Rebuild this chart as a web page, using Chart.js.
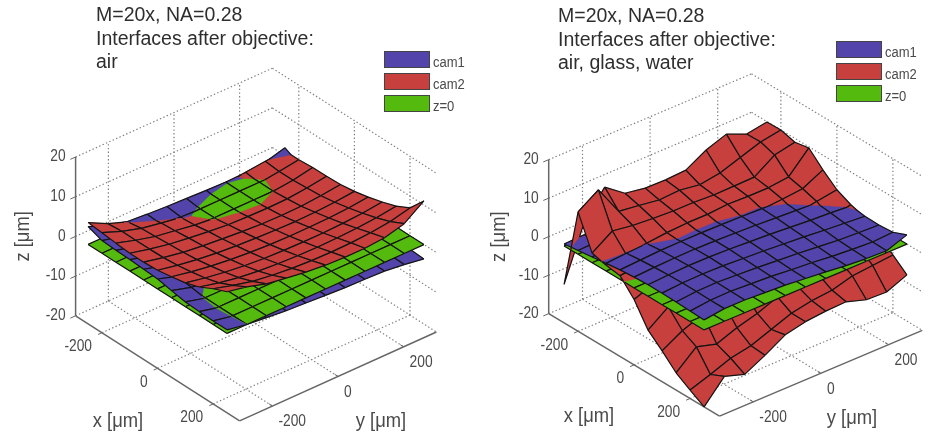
<!DOCTYPE html>
<html>
<head>
<meta charset="utf-8">
<title>Focal surfaces</title>
<script src="https://cdn.jsdelivr.net/npm/chart.js@4"></script>
<style>
  html, body { margin: 0; background: #fff; }
  canvas { position: absolute; top: 0; filter: blur(0.4px); }
  #chartLeft { left: 0; }
  #chartRight { left: 467px; }
</style>
</head>
<body>
<canvas id="chartLeft" width="467" height="433"></canvas>
<canvas id="chartRight" width="467" height="433"></canvas>
<script>
/* --------------- Data --------------- */
const seriesNames = ["cam1", "cam2", "z=0"];
const seriesColors = ["#5244aa", "#c8403d", "#55ba0e"];
const xTicks = [-200, 0, 200];
const yTicks = [-200, 0, 200];
const zTicks = [-20, -10, 0, 10, 20];
const xGrid = [-250, -200, -150, -100, -50, 0, 50, 100, 150, 200, 250];
const yGrid = [-300, -240, -180, -120, -60, 0, 60, 120, 180, 240, 300];
const titleLeft = ["M=20x, NA=0.28", "Interfaces after objective:", "air"];
const titleRight = ["M=20x, NA=0.28", "Interfaces after objective:", "air, glass, water"];

// rows follow xGrid, columns follow yGrid, values in um
const planeZero = [
  [0, 0, 0, 0, 0, 0, 0, 0, 0, 0, 0],
  [0, 0, 0, 0, 0, 0, 0, 0, 0, 0, 0],
  [0, 0, 0, 0, 0, 0, 0, 0, 0, 0, 0],
  [0, 0, 0, 0, 0, 0, 0, 0, 0, 0, 0],
  [0, 0, 0, 0, 0, 0, 0, 0, 0, 0, 0],
  [0, 0, 0, 0, 0, 0, 0, 0, 0, 0, 0],
  [0, 0, 0, 0, 0, 0, 0, 0, 0, 0, 0],
  [0, 0, 0, 0, 0, 0, 0, 0, 0, 0, 0],
  [0, 0, 0, 0, 0, 0, 0, 0, 0, 0, 0],
  [0, 0, 0, 0, 0, 0, 0, 0, 0, 0, 0],
  [0, 0, 0, 0, 0, 0, 0, 0, 0, 0, 0],
];
const cam1Left = [
  [4.5, 2.5, 1.3, 0.9, 0.6, 0.4, 0.2, 0.05, 0.2, 0.6, 2],
  [3.2, 2, 1.2, 0.6, 0.2, -0.1, -0.4, -0.5, -0.5, -0.3, 0.2],
  [3, 1.7, 0.9, 0.3, -0.2, -0.5, -0.8, -1, -1, -1, -0.8],
  [2.9, 1.5, 0.7, 0.1, -0.4, -0.8, -1.1, -1.3, -1.4, -1.5, -1.4],
  [2.7, 1.3, 0.5, -0.1, -0.6, -1, -1.3, -1.5, -1.7, -1.8, -1.9],
  [2.5, 0.9, 0.2, -0.3, -0.8, -1.1, -1.4, -1.7, -1.9, -2.1, -2.3],
  [1.8, 0.4, -0.2, -0.5, -0.9, -1.2, -1.5, -1.8, -2, -2.3, -2.6],
  [1.2, -0.1, -0.4, -0.7, -1, -1.3, -1.6, -1.9, -2.1, -2.5, -2.9],
  [1, -0.2, -0.5, -0.8, -1.1, -1.4, -1.7, -2, -2.2, -2.6, -3.1],
  [0.9, -0.1, -0.5, -0.9, -1.2, -1.5, -1.8, -2, -2.2, -2.7, -3.4],
  [0.9, 0, -0.5, -1, -1.3, -1.6, -1.9, -2, -2.2, -2.8, -3.6],
];
const cam2Left = [
  [5.5, 3, 1.2, 0.3, -0.2, -0.5, -0.8, -0.5, 0.3, 0.8, 1.2],
  [5.2, 3.3, 1.8, 0.9, 0.1, -0.3, -0.6, -0.6, -0.2, 0.5, 1.2],
  [4.8, 3.3, 2, 1.2, 0.4, -0.1, -0.2, -0.2, 0, 0.5, 1.5],
  [4.5, 3.3, 2.3, 1.6, 1, 0.5, 0.3, 0.2, 0.3, 0.8, 1.5],
  [4.5, 3.4, 2.5, 1.9, 1.4, 1, 0.7, 0.6, 0.7, 1.1, 1.7],
  [4.7, 3.7, 2.9, 2.3, 1.9, 1.6, 1.4, 1.3, 1.4, 1.7, 2.2],
  [5.3, 4.3, 3.5, 2.9, 2.5, 2.2, 2.1, 2.1, 2.2, 2.5, 3],
  [6, 5, 4.2, 3.6, 3.2, 3, 2.9, 2.9, 3.1, 3.4, 4],
  [7.2, 6, 5.1, 4.5, 4.1, 3.9, 3.8, 3.9, 4.1, 4.5, 5.2],
  [9, 7.6, 6.4, 5.7, 5.2, 4.9, 4.8, 4.9, 5.2, 5.8, 7],
  [10.5, 9.5, 8, 7.2, 6.5, 6, 5.8, 5.8, 6.2, 7.5, 11],
];
const cam1Right = [
  [0.5, 0.7, 0.9, 1.1, 1.2, 1.3, 1.4, 1.4, 1.5, 1.5, 1.5],
  [1, 1.2, 1.5, 1.7, 1.8, 1.9, 2, 2, 2, 2, 1.9],
  [1.5, 1.9, 2.2, 2.4, 2.5, 2.5, 2.5, 2.5, 2.4, 2.3, 2.1],
  [2, 2.4, 2.7, 2.9, 3, 3, 2.9, 2.8, 2.6, 2.3, 2],
  [2.5, 2.8, 3.1, 3.2, 3.2, 3.1, 3, 2.8, 2.6, 2.3, 1.8],
  [2.8, 3.1, 3.3, 3.4, 3.3, 3.1, 2.9, 2.6, 2.3, 2, 1.5],
  [3, 3.3, 3.5, 3.5, 3.3, 3, 2.7, 2.3, 1.9, 1.6, 1.2],
  [3, 3.4, 3.5, 3.4, 3.1, 2.8, 2.4, 2, 1.5, 1.1, 0.7],
  [2.9, 3.4, 3.5, 3.2, 2.9, 2.5, 2.1, 1.6, 1.1, 0.8, 0.6],
  [2.7, 3.3, 3.4, 3.1, 2.8, 2.3, 1.9, 1.3, 0.9, 0.6, 0.9],
  [2.6, 3.3, 3.3, 3, 2.7, 2.2, 1.7, 1.1, 0.7, 0.5, 2.4],
];
const cam2Right = [
  [-10, 4, 10.8, 7, 6.1, 6, 6.3, 9.3, 11.2, 9, 9.9],
  [11, 14.5, 6.7, 6, 5.2, 5.5, 4.7, 5.5, 7.3, 9.1, 10],
  [2.5, 6, 5.2, 4.8, 4.5, 4.5, 4.2, 4.3, 4.4, 7.9, 9],
  [1.5, 2, 2.8, 3.3, 3.6, 3.6, 4, 3.8, 3.8, 4.4, 9.7],
  [1, 1.5, 2.2, 3, 2.8, 2.7, 2.8, 2.6, 3, 3.5, 6.2],
  [-3, -1, 0, 0.5, 0.8, 0.8, 1, 1.2, 1.4, 2.4, 3.2],
  [-8.8, -5, -4, -3, -2.5, -2, -1.5, -1, -0.5, 0.2, 1.5],
  [-12, -9, -7, -6, -5.5, -5, -4, -3, -2, -1, 0.3],
  [-15.5, -11, -12.5, -10.5, -9, -7, -6.5, -5.5, -4, -3, -2],
  [-17.8, -16, -14, -13, -11, -9, -8, -7.5, -6, -5.5, -5],
  [-20, -14.3, -16, -13.3, -10.2, -9, -8.5, -8.3, -10, -10.2, -8],
];

/* --------------- Panels --------------- */
const panelLeft = {
  canvas: "chartLeft",
  surfaces: [cam1Left, cam2Left, planeZero],
  title: titleLeft,
  origin: [256, 244.5], ex: [0.278, 0.178], ey: [0.328, -0.148], ez: 3.97,
  xLim: 295, yLim: 300,
  titleAt: [96, 16], legendAt: [384, 51],
  zLabelX: 23, xLabelAt: [118, 421], yLabelAt: [381, 421],
};
const panelRight = {
  canvas: "chartRight",
  surfaces: [cam1Right, cam2Right, planeZero],
  title: titleRight,
  origin: [268.5, 245], ex: [0.28, 0.168], ey: [0.338, -0.143], ez: 3.85,
  xLim: 305, yLim: 300,
  titleAt: [91, 17], legendAt: [369, 41],
  zLabelX: 32, xLabelAt: [122, 416], yLabelAt: [385, 418],
};

const zMin = zTicks[0];
const zMax = zTicks[zTicks.length - 1];
const TEXT = "#4a4a4a";
const DOT = "#808080";

/* --------------- 3D view --------------- */
const project = (p, x, y, z) => ({
  x: p.origin[0] + p.ex[0] * x + p.ey[0] * y,
  y: p.origin[1] + p.ex[1] * x + p.ey[1] * y - p.ez * z,
});

// split a polygon along the line where surface s meets surface t
const clipPoly = (poly, s, t, sign) => {
  const out = [];
  poly.forEach((a, k) => {
    const b = poly[(k + 1) % poly.length];
    const da = sign * (a.z[s] - a.z[t]);
    const db = sign * (b.z[s] - b.z[t]);
    if (da >= 0) out.push(a);
    if ((da >= 0) !== (db >= 0)) {
      const f = da / (da - db);
      out.push({
        x: a.x + (b.x - a.x) * f,
        y: a.y + (b.y - a.y) * f,
        z: a.z.map((v, n) => v + (b.z[n] - v) * f),
        edge: da < 0 ? a.edge : false,
      });
    }
  });
  return out;
};

const cellPieces = (p, i, j) => {
  const corner = (a, b, edge) => ({
    x: xGrid[a], y: yGrid[b], z: p.surfaces.map((m) => m[a][b]), edge,
  });
  const quad = [corner(i, j, true), corner(i + 1, j, true), corner(i + 1, j + 1, true), corner(i, j + 1, true)];
  const pieces = [];
  p.surfaces.forEach((_, s) => {
    let list = [quad];
    p.surfaces.forEach((__, t) => {
      if (t === s) return;
      list = list.flatMap((poly) => [clipPoly(poly, s, t, 1), clipPoly(poly, s, t, -1)]);
    });
    list.filter((poly) => poly.length > 2).forEach((poly) => {
      const mean = poly.reduce((sum, v) => sum + v.z[s], 0) / poly.length;
      pieces.push({ poly, s, mean });
    });
  });
  return pieces.sort((a, b) => a.mean - b.mean);
};

const lineSet = (data, color, width, dash) => ({
  data, showLine: true, fill: false, pointRadius: 0,
  borderColor: color, borderWidth: width, borderDash: dash || [],
});

const buildBox = (p) => {
  const sets = [];
  const dotted = (a, b) => sets.push(lineSet([project(p, ...a), project(p, ...b)], DOT, 1.2, [1.4, 2.3]));
  const solid = (a, b, w) => sets.push(lineSet([project(p, ...a), project(p, ...b)], "#666", w));
  xTicks.forEach((x) => {
    dotted([x, -p.yLim, zMin], [x, p.yLim, zMin]);
    dotted([x, p.yLim, zMin], [x, p.yLim, zMax]);
  });
  yTicks.forEach((y) => {
    dotted([-p.xLim, y, zMin], [p.xLim, y, zMin]);
    dotted([-p.xLim, y, zMin], [-p.xLim, y, zMax]);
  });
  zTicks.forEach((z) => {
    dotted([-p.xLim, -p.yLim, z], [-p.xLim, p.yLim, z]);
    dotted([-p.xLim, p.yLim, z], [p.xLim, p.yLim, z]);
  });
  solid([-p.xLim, -p.yLim, zMin], [-p.xLim, -p.yLim, zMax], 1.5);
  solid([-p.xLim, -p.yLim, zMin], [p.xLim, -p.yLim, zMin], 1.5);
  solid([p.xLim, -p.yLim, zMin], [p.xLim, p.yLim, zMin], 1.5);
  zTicks.forEach((z) => solid([-p.xLim, -p.yLim, z], [-p.xLim, -p.yLim - 16, z], 1));
  xTicks.forEach((x) => solid([x, -p.yLim, zMin], [x, -p.yLim - 12, zMin], 1));
  yTicks.forEach((y) => solid([p.xLim, y, zMin], [p.xLim - 12, y, zMin], 1));
  return sets;
};

const buildDatasets = (p) => {
  const sets = buildBox(p);
  // back to front: x grows and y falls toward the viewer
  for (let i = 0; i < xGrid.length - 1; i++) {
    for (let j = yGrid.length - 2; j >= 0; j--) {
      cellPieces(p, i, j).forEach(({ poly, s }) => {
        const pts = poly.map((v) => project(p, v.x, v.y, v.z[s]));
        sets.push({
          label: seriesNames[s],
          data: [...pts, pts[0]],
          showLine: true, fill: "shape", pointRadius: 0,
          backgroundColor: seriesColors[s],
          borderColor: seriesColors[s], borderWidth: 0.4,
        });
        const mesh = [];
        poly.forEach((v, k) => {
          if (!v.edge) return;
          mesh.push(pts[k], pts[(k + 1) % pts.length], { x: NaN, y: NaN });
        });
        if (mesh.length) sets.push(lineSet(mesh, "#141414", 1.2));
      });
    }
  }
  // chart.js paints the first dataset last
  return sets.reverse();
};

/* --------------- Text and legend --------------- */
// the reference lettering is a little narrower than the font
const narrowText = (ctx, text, x, y, squeeze) => {
  ctx.fillText(text, x, y, ctx.measureText(text).width * squeeze);
};

const panelText = {
  id: "panelText",
  afterDatasetsDraw(chart, args, opts) {
    const p = opts.panel;
    const ctx = chart.ctx;
    const px = (pt) => [chart.scales.x.getPixelForValue(pt.x), chart.scales.y.getPixelForValue(pt.y)];
    ctx.save();
    ctx.textBaseline = "middle";

    ctx.fillStyle = "#2e2e2e";
    ctx.font = '19.5px "Liberation Sans"';
    ctx.textAlign = "left";
    p.title.forEach((line, n) => ctx.fillText(line, p.titleAt[0], p.titleAt[1] + n * 23.5));

    seriesNames.forEach((name, n) => {
      const top = p.legendAt[1] + n * 22;
      ctx.fillStyle = seriesColors[n];
      ctx.strokeStyle = "#444";
      ctx.lineWidth = 1;
      ctx.fillRect(p.legendAt[0], top, 46, 17);
      ctx.strokeRect(p.legendAt[0] + 0.5, top + 0.5, 45, 16);
      ctx.fillStyle = TEXT;
      ctx.font = '14px "Liberation Sans"';
      narrowText(ctx, name, p.legendAt[0] + 49, top + 12, 0.93);
    });

    ctx.fillStyle = TEXT;
    ctx.font = '16px "Liberation Sans"';
    ctx.textAlign = "right";
    zTicks.forEach((z) => {
      const [a, b] = px(project(p, -p.xLim, -p.yLim, z));
      narrowText(ctx, String(z), a - 10, b, 0.86);
    });
    xTicks.forEach((x) => {
      const [a, b] = px(project(p, x, -p.yLim, zMin));
      narrowText(ctx, String(x), a - 10, b + 14, 0.86);
    });
    ctx.textAlign = "left";
    yTicks.forEach((y) => {
      const [a, b] = px(project(p, p.xLim, y, zMin));
      narrowText(ctx, String(y), a + 6, b + 16, 0.86);
    });

    ctx.font = '20px "Liberation Sans"';
    ctx.textAlign = "center";
    narrowText(ctx, "x [\u03bcm]", p.xLabelAt[0], p.xLabelAt[1], 0.92);
    narrowText(ctx, "y [\u03bcm]", p.yLabelAt[0], p.yLabelAt[1], 0.92);
    const zCenter = px(project(p, -p.xLim, -p.yLim, 0));
    ctx.translate(p.zLabelX, zCenter[1]);
    ctx.rotate(-Math.PI / 2);
    narrowText(ctx, "z [\u03bcm]", 0, 0, 0.92);
    ctx.restore();
  },
};

/* --------------- Charts --------------- */
[panelLeft, panelRight].forEach((p) => {
  const canvas = document.getElementById(p.canvas);
  new Chart(canvas, {
    type: "scatter",
    data: { datasets: buildDatasets(p) },
    plugins: [panelText],
    options: {
      responsive: false,
      animation: false,
      events: [],
      layout: { padding: 0 },
      scales: {
        x: { type: "linear", display: false, min: 0, max: canvas.width },
        y: { type: "linear", display: false, min: 0, max: canvas.height, reverse: true },
      },
      plugins: {
        legend: { display: false },
        tooltip: { enabled: false },
        panelText: { panel: p },
      },
    },
  });
});
</script>
</body>
</html>
